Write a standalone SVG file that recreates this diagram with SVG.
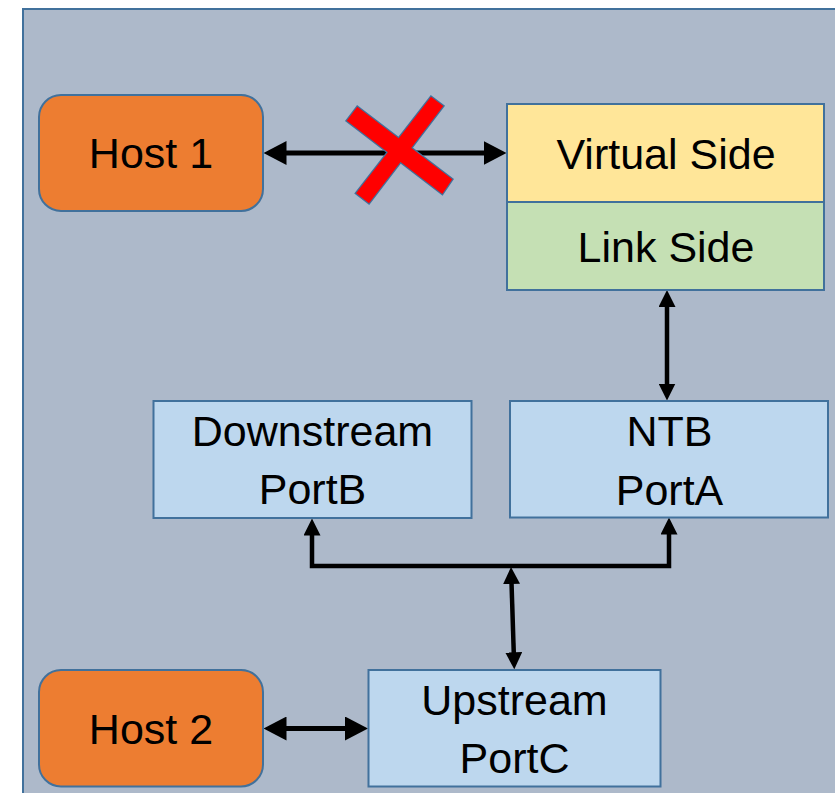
<svg xmlns="http://www.w3.org/2000/svg" width="835" height="793" viewBox="0 0 835 793">
  <style>
    .frame { fill: #ADB9CA; stroke: #41719C; stroke-width: 2; }
    .box { stroke: #41719C; stroke-width: 2; }
    .host { fill: #ED7D31; }
    .port { fill: #BDD7EE; }
    .virt { fill: #FFE699; }
    .link { fill: #C5E0B4; }
    .lbl { font-family: "Liberation Sans", Arial, sans-serif; font-size: 43px; fill: #000; text-anchor: middle; }
    .wire { fill: none; stroke: #000; }
    .thick { stroke-width: 5; marker-start: url(#headL); marker-end: url(#headL); }
    .thin { stroke-width: 4.5; marker-start: url(#headS); marker-end: url(#headS); }
    .cross { fill: #FF0000; }
  </style>
  <defs>
    <marker id="headL" viewBox="0 0 23 24" refX="13" refY="12" markerWidth="23" markerHeight="24" markerUnits="userSpaceOnUse" orient="auto-start-reverse">
      <path d="M0,0 L23,12 L0,24 Z" fill="#000"/>
    </marker>
    <marker id="headS" viewBox="0 0 17 17" refX="9" refY="8.5" markerWidth="17" markerHeight="17" markerUnits="userSpaceOnUse" orient="auto-start-reverse">
      <path d="M0,0 L17,8.5 L0,17 Z" fill="#000"/>
    </marker>
  </defs>

  <!-- enclosing system frame -->
  <rect class="frame" x="23" y="9" width="830" height="800"/>

  <!-- connectors -->
  <g id="connectors">
    <path class="wire thick" d="M273.5,153 H496.5"/>
    <path class="wire thin" d="M667,298 V392.5"/>
    <path class="wire thin" d="M312,526.5 V566 H669 V525.5"/>
    <path class="wire thin" d="M511.26,575 L514.04,661.3"/>
    <path class="wire thick" d="M273.5,728.5 H358"/>
  </g>

  <!-- blocked link marker -->
  <g id="blocked">
    <polygon points="357.3,106.7 452.3,179.3 442.3,194 346.7,120.7" fill="none" stroke="#41719C" stroke-width="2.5"/>
    <polygon points="431,96.7 443.3,106 369,203.3 356,193.3" fill="none" stroke="#41719C" stroke-width="2.5"/>
    <polygon class="cross" points="357.3,106.7 452.3,179.3 442.3,194 346.7,120.7"/>
    <polygon class="cross" points="431,96.7 443.3,106 369,203.3 356,193.3"/>
  </g>

  <g id="host1">
    <rect class="box host" x="39" y="95" width="224" height="116" rx="22"/>
    <text class="lbl" x="151" y="168">Host 1</text>
  </g>

  <g id="ntb-endpoint">
    <rect class="box virt" x="507" y="104" width="317" height="98"/>
    <text class="lbl" x="666" y="169">Virtual Side</text>
    <rect class="box link" x="507" y="202" width="317" height="88"/>
    <text class="lbl" x="666" y="262">Link Side</text>
  </g>

  <g id="portB">
    <rect class="box port" x="153.5" y="401" width="318" height="117"/>
    <text class="lbl" x="312.5" y="446">Downstream</text>
    <text class="lbl" x="312.5" y="504">PortB</text>
  </g>

  <g id="portA">
    <rect class="box port" x="510" y="401" width="318" height="116.5"/>
    <text class="lbl" x="669.5" y="446">NTB</text>
    <text class="lbl" x="669.5" y="505">PortA</text>
  </g>

  <g id="portC">
    <rect class="box port" x="368.5" y="670" width="292" height="116.5"/>
    <text class="lbl" x="514.5" y="715">Upstream</text>
    <text class="lbl" x="514.5" y="773">PortC</text>
  </g>

  <g id="host2">
    <rect class="box host" x="39" y="670" width="224" height="116.5" rx="22"/>
    <text class="lbl" x="151" y="744">Host 2</text>
  </g>
</svg>
